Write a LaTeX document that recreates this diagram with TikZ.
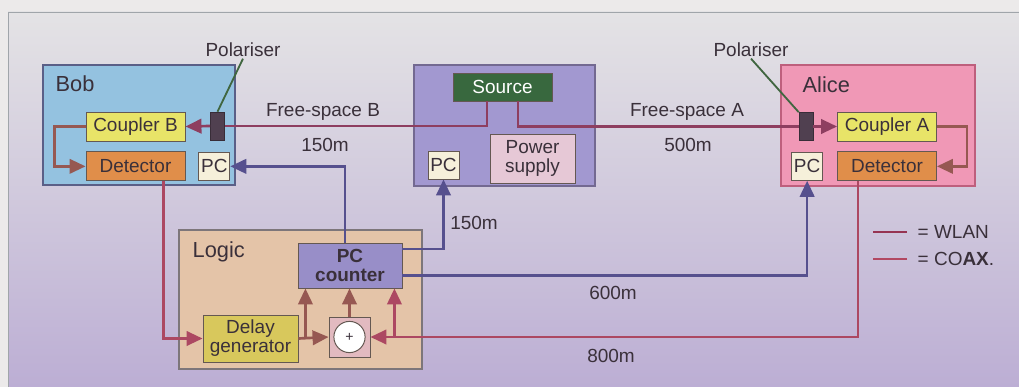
\documentclass[tikz,border=0pt]{standalone}
\usepackage{fontspec}
\setmainfont{Liberation Sans}
\usepackage{tikz}
\usepackage{xcolor}
\definecolor{PaperGray}{RGB}{236,234,234}
\definecolor{FrameTop}{RGB}{228,227,229}
\definecolor{FrameMid}{RGB}{214,204,222}
\definecolor{FrameBot}{RGB}{188,174,212}
\definecolor{FrameEdge}{RGB}{160,165,170}
\definecolor{TextGray}{RGB}{58,48,58}
\definecolor{BobBlue}{RGB}{148,194,224}
\definecolor{BobEdge}{RGB}{90,95,135}
\definecolor{SrcLavender}{RGB}{162,152,208}
\definecolor{SrcEdge}{RGB}{115,105,145}
\definecolor{AlicePink}{RGB}{240,152,182}
\definecolor{AliceEdge}{RGB}{190,95,125}
\definecolor{LogicTan}{RGB}{228,196,168}
\definecolor{LogicEdge}{RGB}{125,118,122}
\definecolor{CouplerYellow}{RGB}{232,228,104}
\definecolor{DetOrange}{RGB}{224,142,74}
\definecolor{PCCream}{RGB}{246,240,218}
\definecolor{SrcGreen}{RGB}{56,104,62}
\definecolor{PwrPink}{RGB}{230,200,214}
\definecolor{CounterLilac}{RGB}{152,142,200}
\definecolor{DelayYellow}{RGB}{216,200,92}
\definecolor{XorPink}{RGB}{226,186,192}
\definecolor{PartEdge}{RGB}{100,88,82}
\definecolor{PolDark}{RGB}{80,64,80}
\definecolor{WlanBlue}{RGB}{86,80,142}
\definecolor{CoaxRed}{RGB}{172,72,98}
\definecolor{BeamMaroon}{RGB}{142,62,96}
\definecolor{FibreBrown}{RGB}{150,88,82}
\definecolor{LegendW}{RGB}{150,52,82}
\definecolor{LegendC}{RGB}{178,72,98}
\newcommand{\lblfont}{\fontsize{13.5}{13.5}\selectfont}
\newcommand{\unitfont}{\fontsize{15.5}{17}\selectfont}
\usetikzlibrary{positioning,arrows.meta,shapes,calc}

\begin{document}
\begin{tikzpicture}[x=0.025cm, y=-0.025cm,
    station/.style={rectangle, line width=0.8pt, inner sep=0pt},
    part/.style={rectangle, draw=PartEdge, line width=0.6pt, inner sep=0pt,
                 minimum width=2.475cm, minimum height=0.725cm,
                 font=\lblfont, text=TextGray, align=center},
    pcbox/.style={part, fill=PCCream, minimum width=0.775cm, minimum height=0.7cm},
    pol/.style={rectangle, fill=PolDark, draw=PolDark!70!black, inner sep=0pt,
                minimum width=0.35cm, minimum height=0.7cm},
    tag/.style={font=\lblfont, text=TextGray, inner sep=1pt},
    unitlabel/.style={font=\unitfont, text=TextGray, anchor=west, inner sep=1pt},
    arrow/.style={-{Triangle[length=4mm, width=3.6mm]}},
    wlan/.style={draw=WlanBlue, line width=1.9pt},
    coax/.style={draw=CoaxRed, line width=1.9pt},
    beam/.style={draw=BeamMaroon, line width=1.9pt},
    fibre/.style={draw=FibreBrown, line width=1.9pt},
    pointer/.style={draw=PolDark!80!green, line width=1.3pt}
]
    % page and frame
    \useasboundingbox (0,0) rectangle (1019,387);
    \fill[PaperGray] (0,0) rectangle (1019,387);
    \shade[top color=FrameTop, middle color=FrameMid, bottom color=FrameBot] (8,12) rectangle (1019,387);
    \draw[FrameEdge, line width=0.6pt] (8,387) -- (8,12) -- (1019,12);

    % Bob
    \node[station, fill=BobBlue, draw=BobEdge, minimum width=4.8cm, minimum height=3cm] (bob) at (139,125) {};
    \node[unitlabel] (boblbl) at (54,84) {Bob};
    \node[part, fill=CouplerYellow] (cplB) at (135.5,126.5) {Coupler B};
    \node[part, fill=DetOrange, below=0.25cm of cplB] (detB) {Detector};
    \node[pcbox, right=0.325cm of detB] (pcB) {PC};
    \node[pol] (polB) at (217.5,126) {};
    \node[tag] (polBlbl) at (243,50) {Polariser};

    % source
    \node[station, fill=SrcLavender, draw=SrcEdge, minimum width=4.525cm, minimum height=3.025cm] (srcbox) at (504.5,125.5) {};
    \node[part, fill=SrcGreen, text=white, minimum height=0.7cm] (src) at (502.5,87) {Source};
    \node[part, fill=PwrPink, minimum width=2.125cm, minimum height=1.225cm] (pwr) at (532.5,158.5) {Power\\supply};
    \node[pcbox] (pcS) at (443.5,165) {PC};

    % Alice
    \node[station, fill=AlicePink, draw=AliceEdge, minimum width=4.85cm, minimum height=3.025cm] (alice) at (878,125.5) {};
    \node[unitlabel] (alicelbl) at (801,85) {Alice};
    \node[part, fill=CouplerYellow] (cplA) at (887,126.5) {Coupler A};
    \node[part, fill=DetOrange, below=0.25cm of cplA] (detA) {Detector};
    \node[pcbox, left=0.35cm of detA] (pcA) {PC};
    \node[pol] (polA) at (806,126.5) {};
    \node[tag] (polAlbl) at (751,50) {Polariser};

    % logic
    \node[station, fill=LogicTan, draw=LogicEdge, minimum width=6.075cm, minimum height=3.475cm] (logic) at (300.5,299.5) {};
    \node[unitlabel] (logiclbl) at (191,252) {Logic};
    \node[part, fill=CounterLilac, minimum width=2.6cm, minimum height=1.125cm, font=\lblfont\bfseries] (pcc) at (350,265.5) {PC\\counter};
    \node[part, fill=DelayYellow, minimum width=2.375cm, minimum height=1.175cm] (delay) at (250.5,338.5) {Delay\\generator};
    \node[part, fill=XorPink, minimum width=1.025cm, minimum height=1cm] (xor) at (349.5,337) {};
    \node[circle, draw=PartEdge, fill=white, line width=0.7pt, minimum size=0.78cm, inner sep=0pt, text=TextGray] (xorc) at (xor.center) {+};

    % free-space links
    \draw[beam] ([xshift=-0.39cm]src.south) |- (polB.east);
    \draw[beam] ([xshift=0.39cm]src.south) |- (polA.west);
    \draw[beam, arrow] (polB.west) -- (cplB.east);
    \draw[beam, arrow] (polA.east) -- (cplA.west);
    \draw[pointer] (polBlbl.south) -- (polB.north);
    \draw[pointer] (polAlbl.south) -- (polA.north west);

    % couplers to detectors
    \draw[fibre, arrow] (cplB.west) -- ++(-31,0) |- (detB.west);
    \draw[fibre, arrow] (cplA.east) -- ++(30,0) |- (detA.east);

    % WLAN
    \draw[wlan, arrow] ([xshift=-0.125cm]pcc.north) |- (pcB.east);
    \draw[wlan, arrow] ([yshift=0.41cm]pcc.east) -| (pcS.south);
    \draw[wlan, arrow] ([yshift=-0.25cm]pcc.east) -| (pcA.south);

    % coax
    \draw[coax, arrow] ([xshift=0.7cm]detB.south) |- (delay.west);
    \draw[coax, arrow] ([xshift=-0.725cm]detA.south) |- (xor.east);
    \draw[fibre, arrow] (delay.east) -- (xor.west);
    \coordinate (tapD) at ([xshift=0.175cm]delay.east);
    \draw[fibre, arrow] (tapD) -- (tapD |- pcc.south);
    \draw[fibre, arrow] (xor.north) -- (xor.north |- pcc.south);
    \coordinate (tapA) at ([xshift=0.6cm]xor.east);
    \draw[coax, arrow] (tapA) -- (tapA |- pcc.south);

    % distances
    \node[tag] (fsB) at (323,112) {Free-space B};
    \node[tag] (lenB) at (325,145) {150m};
    \node[tag] (fsA) at (687,112) {Free-space A};
    \node[tag] (lenA) at (688,145) {500m};
    \node[tag] (lenS) at (474,223) {150m};
    \node[tag] (lenW) at (613,293) {600m};
    \node[tag] (lenC) at (611,356) {800m};

    % legend
    \node[tag, anchor=west] (lgW) at (916,232) {= WLAN};
    \node[tag, anchor=west] (lgC) at (916,259) {= CO\textbf{AX}.};
    \draw[LegendW, line width=1.9pt] ([xshift=-0.225cm]lgW.west) -- ++(-34,0);
    \draw[LegendC, line width=1.9pt] ([xshift=-0.225cm]lgC.west) -- ++(-34,0);
\end{tikzpicture}
\end{document}
